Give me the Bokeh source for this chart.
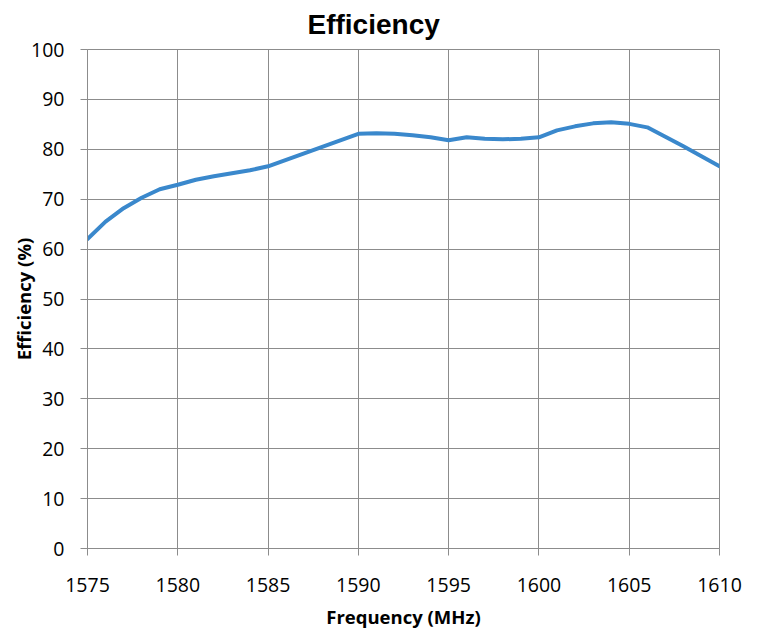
from bokeh.plotting import figure
from bokeh.models import Range1d, FixedTicker
from bokeh.embed import file_html
from bokeh.resources import INLINE

freq_mhz = list(range(1575, 1611))
efficiency_pct = [62.0, 65.5, 68.2, 70.3, 72.0, 72.9, 73.9, 74.6, 75.2, 75.8,
                  76.6, 77.9, 79.2, 80.5, 81.8, 83.1, 83.2, 83.1, 82.8, 82.4,
                  81.8, 82.4, 82.1, 82.0, 82.1, 82.4, 83.8, 84.6, 85.2, 85.4,
                  85.1, 84.4, 82.5, 80.6, 78.6, 76.6]
x_ticks = [1575, 1580, 1585, 1590, 1595, 1600, 1605, 1610]
y_ticks = [0, 10, 20, 30, 40, 50, 60, 70, 80, 90, 100]
chart_title = "Efficiency"

GRID = "#8c8c8c"
FONT = "Open Sans"

p = figure(width=762, height=638, output_backend="svg", toolbar_location=None,
           x_range=Range1d(1575, 1610), y_range=Range1d(0, 100),
           min_border_left=87, min_border_right=43, min_border_top=49,
           min_border_bottom=90)

p.title.text = chart_title
p.title.align = "left"
p.title.offset = 220
p.title.vertical_align = "top"
p.title.text_line_height = 1.0
p.title.text_font = "Liberation Sans"
p.title.text_font_size = "28px"
p.title.text_font_style = "bold"
p.title.text_color = "black"
p.title.standoff = 15

p.line(freq_mhz, efficiency_pct, line_color="#3A88CC", line_width=4,
       line_join="round", line_cap="round")

p.xaxis.ticker = FixedTicker(ticks=x_ticks)
p.yaxis.ticker = FixedTicker(ticks=y_ticks)
p.xaxis.axis_label = "Frequency (MHz)"
p.yaxis.axis_label = "Efficiency (%)"

for ax in (p.xaxis, p.yaxis):
    ax.axis_line_color = GRID
    ax.major_tick_line_color = GRID
    ax.major_tick_out = 7
    ax.major_tick_in = 0
    ax.minor_tick_line_color = None
    ax.major_label_text_font = FONT
    ax.major_label_text_font_size = "19.5px"
    ax.major_label_text_color = "black"
    ax.axis_label_text_font = FONT
    ax.axis_label_text_font_size = "18.5px"
    ax.axis_label_text_font_style = "bold"
    ax.axis_label_text_color = "black"

p.xaxis.major_label_standoff = 22
p.yaxis.major_label_standoff = 16
p.xaxis.axis_label_standoff = 9
p.yaxis.axis_label_standoff = -8

p.xgrid.grid_line_color = GRID
p.ygrid.grid_line_color = GRID
p.outline_line_color = GRID
p.background_fill_color = "white"
p.border_fill_color = "white"

open("out.html", "w").write(file_html(p, INLINE))
